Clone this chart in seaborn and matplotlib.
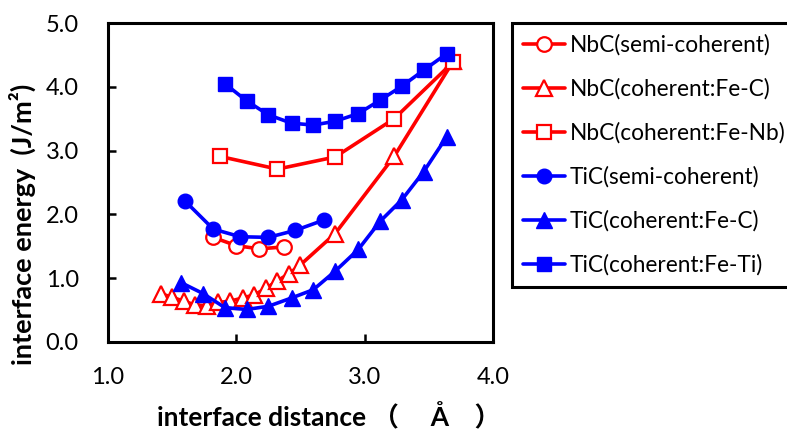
import matplotlib
matplotlib.use('Agg')
import matplotlib.pyplot as plt
import seaborn as sns

# interface distance (A) / interface energy (J/m2)
nbc_semi_x = [1.82, 2.00, 2.18, 2.37]
nbc_semi_y = [1.64, 1.51, 1.46, 1.49]

nbc_fec_x = [1.41, 1.50, 1.59, 1.68, 1.77, 1.86, 1.95, 2.05, 2.14, 2.23, 2.32, 2.41, 2.50, 2.77, 3.23, 3.69]
nbc_fec_y = [0.76, 0.70, 0.64, 0.58, 0.57, 0.62, 0.64, 0.69, 0.74, 0.84, 0.96, 1.07, 1.21, 1.70, 2.91, 4.40]

nbc_fenb_x = [1.87, 2.32, 2.77, 3.23, 3.69]
nbc_fenb_y = [2.91, 2.71, 2.90, 3.50, 4.39]

tic_semi_x = [1.60, 1.82, 2.03, 2.25, 2.46, 2.68]
tic_semi_y = [2.21, 1.77, 1.65, 1.64, 1.75, 1.91]

tic_fec_x = [1.57, 1.74, 1.91, 2.08, 2.25, 2.43, 2.60, 2.77, 2.95, 3.12, 3.29, 3.46, 3.64]
tic_fec_y = [0.93, 0.76, 0.54, 0.51, 0.56, 0.69, 0.82, 1.11, 1.45, 1.89, 2.23, 2.67, 3.22]

tic_feti_x = [1.91, 2.08, 2.25, 2.43, 2.60, 2.77, 2.95, 3.12, 3.29, 3.46, 3.64]
tic_feti_y = [4.05, 3.78, 3.56, 3.43, 3.40, 3.46, 3.58, 3.79, 4.01, 4.26, 4.52]

x_ticks = [1.0, 2.0, 3.0, 4.0]
y_ticks = [0.0, 1.0, 2.0, 3.0, 4.0, 5.0]

series = [
    ('NbC(semi-coherent)', nbc_semi_x, nbc_semi_y, '#FF0000', 'o', False),
    ('NbC(coherent:Fe-C)', nbc_fec_x, nbc_fec_y, '#FF0000', '^', False),
    ('NbC(coherent:Fe-Nb)', nbc_fenb_x, nbc_fenb_y, '#FF0000', 's', False),
    ('TiC(semi-coherent)', tic_semi_x, tic_semi_y, '#0000FF', 'o', True),
    ('TiC(coherent:Fe-C)', tic_fec_x, tic_fec_y, '#0000FF', '^', True),
    ('TiC(coherent:Fe-Ti)', tic_feti_x, tic_feti_y, '#0000FF', 's', True),
]
marker_sizes = {'o': 10.5, '^': 11, 's': 10.5}

sns.set_style('ticks')
plt.rcParams['font.family'] = ['Lato', 'Noto Sans CJK JP', 'DejaVu Sans']
plt.rcParams['text.color'] = 'black'
plt.rcParams['axes.labelcolor'] = 'black'

fig = plt.figure(figsize=(7.87, 4.32), dpi=100)
ax = fig.add_axes([108 / 787, 90 / 432, 385 / 787, 319 / 432])

for name, xs, ys, color, marker, filled in series:
    sns.lineplot(x=xs, y=ys, ax=ax, color=color, marker=marker, label=name,
                 linewidth=2.6, markersize=marker_sizes[marker],
                 markerfacecolor=color if filled else 'white',
                 markeredgecolor=color, markeredgewidth=1.6 if not filled else 1.0,
                 sort=False, legend=False)

ax.set_xlim(1.0, 4.0)
ax.set_ylim(0.0, 5.0)
ax.set_xticks(x_ticks)
ax.set_yticks(y_ticks)
ax.set_xticklabels([f'{v:.1f}' for v in x_ticks])
ax.set_yticklabels([f'{v:.1f}' for v in y_ticks])
ax.tick_params(axis='both', direction='in', length=6, width=1.8, labelsize=17,
               colors='black')
ax.tick_params(axis='x', pad=18)
ax.tick_params(axis='y', pad=21)
for sp in ax.spines.values():
    sp.set_visible(True)
    sp.set_linewidth(2.2)
    sp.set_color('black')

ax.set_xlabel('interface distance （     Å    ）', fontsize=19, fontweight='bold',
              va='top', ha='left')
ax.set_ylabel('interface energy  (J/m²)', fontsize=19.5, fontweight='bold')
ax.xaxis.set_label_coords(0.127, -0.19)
ax.yaxis.set_label_coords(-0.186, 0.37)

handles, labels = ax.get_legend_handles_labels()
leg = fig.legend(handles, labels, loc='upper left',
                 bbox_to_anchor=(512 / 787, 1 - 23 / 432),
                 fontsize=16.3, frameon=True, fancybox=False, framealpha=1,
                 borderpad=0.5, handlelength=1.85, handletextpad=0.2,
                 labelspacing=0.99, borderaxespad=0)
leg.get_frame().set_edgecolor('black')
leg.get_frame().set_linewidth(2.2)

fig.savefig('out.png', dpi=100)
